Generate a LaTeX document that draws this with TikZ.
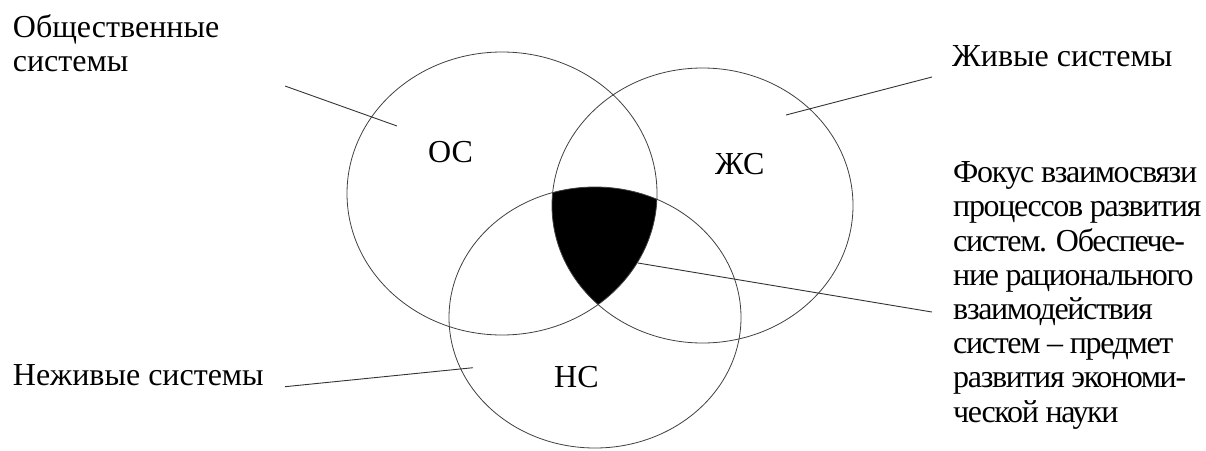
\documentclass[tikz,border=0pt]{standalone}
\usepackage{fontspec}
\setmainfont{Liberation Serif}
\usepackage{tikz}

\begin{document}
\begin{tikzpicture}[x=1pt,y=-1pt]
    \tikzstyle{circ} = [draw=black!75, line width=0.8pt]
    \tikzstyle{sysname} = [font=\fontsize{32}{34}\selectfont, anchor=base west, inner sep=0pt]
    \tikzstyle{note} = [font=\fontsize{32}{34.2}\selectfont, align=left, anchor=base west, inner sep=0pt]
    \tikzstyle{leader} = [draw=black!80, line width=0.9pt]
    \useasboundingbox (0,0) rectangle (1206,450);
    % common part of the three systems
    \begin{scope}
        \clip (502,193.5) ellipse [x radius=155pt, y radius=141.5pt];
        \clip (702.5,205.5) ellipse [x radius=150.5pt, y radius=137.5pt];
        \fill (595,317.5) ellipse [x radius=146pt, y radius=130.5pt];
    \end{scope}
    \draw [circ] (502,193.5) ellipse [x radius=155pt, y radius=141.5pt];
    \draw [circ] (702.5,205.5) ellipse [x radius=150.5pt, y radius=137.5pt];
    \draw [circ] (595,317.5) ellipse [x radius=146pt, y radius=130.5pt];
    \node [sysname] (OS) at (428,162) {ОС};
    \node [sysname] (ZS) at (715,174) {ЖС};
    \node [sysname] (NS) at (554,387) {НС};
    % multi-line notes sit on the baseline of their last line
    \node [note] (OSnote) at (12.7,71.5) {Общественные\\системы};
    \node [note] (ZSnote) at (952,66.7) {Живые системы};
    \node [note] (NSnote) at (12.7,385) {Неживые системы};
    \node [note, font=\fontsize{32}{34.2}\selectfont\addfontfeature{LetterSpace=-4.2}] (Focus) at (953,422) {Фокус взаимосвязи\\процессов развития\\систем. Обеспече-\\ние рационального\\взаимодействия\\систем -- предмет\\развития экономи-\\ческой науки};
    \coordinate (OSa) at (285,86);
    \coordinate (OSb) at (397,126);
    \coordinate (ZSa) at (786,115);
    \coordinate (ZSb) at (932,77);
    \coordinate (NSa) at (285,386.7);
    \coordinate (NSb) at (473,367.7);
    \coordinate (Fa) at (638,263);
    \coordinate (Fb) at (932,312);
    \draw [leader] (OSa) -- (OSb);
    \draw [leader] (ZSa) -- (ZSb);
    \draw [leader] (NSa) -- (NSb);
    \draw [leader] (Fa) -- (Fb);
\end{tikzpicture}
\end{document}
